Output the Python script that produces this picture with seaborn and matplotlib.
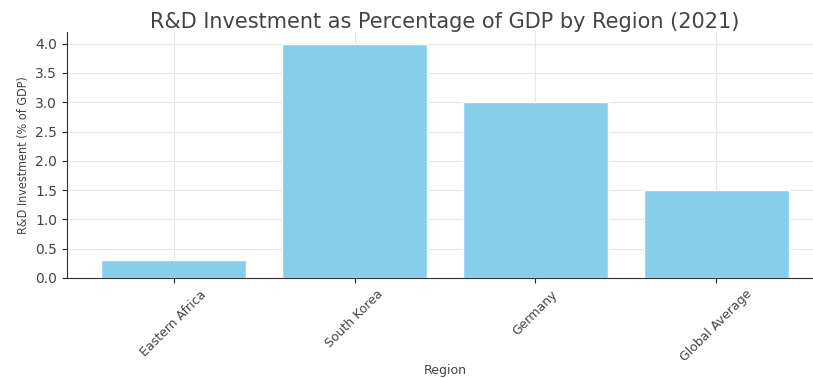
import matplotlib
matplotlib.use("Agg")
from matplotlib import pyplot as plt
import seaborn as sns
import pandas as pd

# values
regions = ["Eastern Africa", "South Korea", "Germany", "Global Average"]
rd_share = [0.3, 4.0, 3.0, 1.5]

frame = pd.DataFrame({"Region": regions, "RD": rd_share})

sns.set_style("ticks", {"axes.grid": True, "grid.color": "#e6e6e6"})
plt.rcParams["font.family"] = ["DejaVu Sans"]

fig = plt.figure(figsize=(8.13, 3.78), dpi=100)
ax = fig.add_axes([0.0824, 0.2646, 0.93, 0.651])

sns.barplot(data=frame, x="Region", y="RD", color="skyblue", saturation=1,
            width=0.8, ax=ax, zorder=2)
ax.set_axisbelow(True)
ax.xaxis.grid(True, color="#e6e6e6")
ax.yaxis.grid(True, color="#e6e6e6")
ax.set_xlim(-0.59, 3.59)
ax.set_ylim(0, 4.2)
ax.set_yticks([0.0, 0.5, 1.0, 1.5, 2.0, 2.5, 3.0, 3.5, 4.0])
ax.set_yticklabels([f"{v:.1f}" for v in ax.get_yticks()], fontsize=10, color="#444444")
plt.setp(ax.get_xticklabels(), rotation=45, fontsize=9, color="#444444")

ax.set_title("R&D Investment as Percentage of GDP by Region (2021)",
             fontsize=15, color="#444444", pad=3)
ax.set_xlabel("Region", fontsize=9, color="#444444", labelpad=0)
ax.set_ylabel("R&D Investment (% of GDP)", fontsize=9, color="#444444",
              fontstretch="condensed", labelpad=4)

for side in ["left", "bottom"]:
    ax.spines[side].set_color("#333333")
sns.despine(ax=ax, top=True, right=True)

fig.savefig("out.png", dpi=100)
